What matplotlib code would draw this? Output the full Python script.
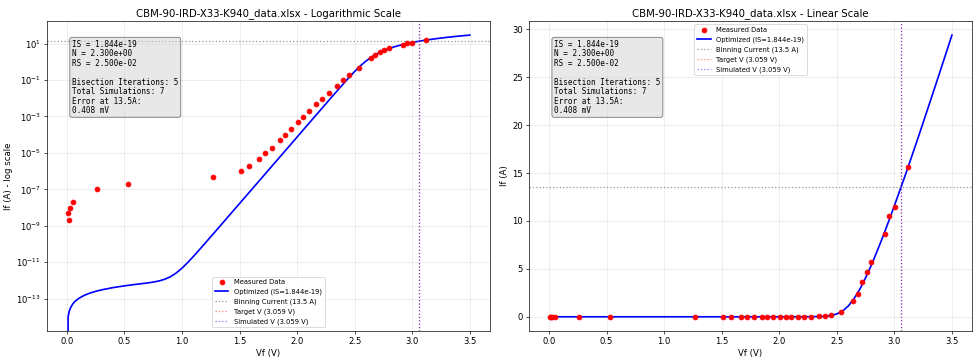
import numpy as np
import matplotlib.pyplot as plt

fname = "CBM-90-IRD-X33-K940_data.xlsx"

# measured points (Vf, If)
vf_meas = [0.011, 0.020, 0.023, 0.052, 0.263, 0.532, 1.268, 1.515, 1.579, 1.666,
           1.718, 1.779, 1.849, 1.895, 1.945, 2.009, 2.055, 2.102, 2.163, 2.215,
           2.273, 2.343, 2.395, 2.453, 2.534, 2.642, 2.680, 2.718, 2.758, 2.797,
           2.918, 2.956, 3.002, 3.118]
if_meas = [4.9e-9, 1.95e-9, 1.0e-8, 2.0e-8, 1.0e-7, 2.0e-7, 4.7e-7, 9.6e-7, 1.95e-6, 4.9e-6,
           9.6e-6, 1.95e-5, 4.9e-5, 1.0e-4, 2.0e-4, 4.7e-4, 9.2e-4, 1.9e-3, 4.7e-3, 9.2e-3,
           1.9e-2, 4.7e-2, 9.6e-2, 0.195, 0.48, 1.6, 2.42, 3.63, 4.67, 5.71,
           8.68, 10.55, 11.49, 15.57]

# optimized model curve
vf_sim = [0.0, 0.01, 0.02, 0.03, 0.05, 0.07, 0.1, 0.15, 0.2, 0.25, 0.3, 0.4, 0.5, 0.6,
          0.65, 0.7, 0.75, 0.8, 0.85, 0.9, 0.95, 1.0, 1.05, 1.1, 1.15, 1.2, 1.3, 1.5,
          1.8, 2.0, 2.1, 2.2, 2.3, 2.4, 2.45, 2.5, 2.55, 2.6, 2.65, 2.7, 2.75, 2.8,
          2.85, 2.9, 2.95, 3.0, 3.05, 3.1, 3.2, 3.3, 3.4, 3.5]
if_sim = [0.0, 1.0e-14, 2.0e-14, 3.0e-14, 5.0e-14, 7.0e-14, 1.0e-13, 1.5e-13, 2.0e-13,
          2.5e-13, 3.0e-13, 4.0e-13, 5.0e-13, 6.05e-13, 6.6e-13, 7.2e-13, 8.05e-13,
          9.3e-13, 1.15e-12, 1.59e-12, 2.55e-12, 4.7e-12, 9.65e-12, 2.1e-11, 4.75e-11,
          1.09e-10, 5.79e-10, 1.67e-8, 2.58e-6, 7.47e-5, 4.02e-4, 2.16e-3, 1.16e-2,
          0.0607, 0.1365, 0.297, 0.606, 1.127, 1.895, 2.88, 4.07, 5.39, 6.84, 8.35,
          9.945, 11.58, 13.26, 14.95, 18.45, 22.05, 25.69, 29.37]

IS = 1.844e-19
N = 2.3
RS = 0.025
i_bin = 13.5
v_target = 3.059
v_sim = 3.059

info = ("IS = {:.3e}\nN = {:.3e}\nRS = {:.3e}\n\nBisection Iterations: 5\n"
        "Total Simulations: 7\nError at 13.5A:\n0.408 mV").format(IS, N, RS)

fig, (ax1, ax2) = plt.subplots(1, 2, figsize=(16, 5.975), dpi=60.9375)

for ax, logy in [(ax1, True), (ax2, False)]:
    ax.scatter(vf_meas, if_meas, color='red', s=32, label='Measured Data', zorder=5)
    ax.plot(vf_sim, if_sim, 'b-', linewidth=2, label='Optimized (IS={:.3e})'.format(IS))
    ax.axhline(i_bin, color='gray', linestyle=':', alpha=0.8,
               label='Binning Current ({} A)'.format(i_bin))
    ax.axvline(v_target, color='red', linestyle=':', alpha=0.5,
               label='Target V ({:.3f} V)'.format(v_target))
    ax.axvline(v_sim, color='blue', linestyle=':', alpha=0.5,
               label='Simulated V ({:.3f} V)'.format(v_sim))
    ax.set_xlabel('Vf (V)')
    ax.grid(True, alpha=0.3)
    ax.text(0.057, 0.94, info, transform=ax.transAxes, fontsize=9, family='monospace',
            va='top', linespacing=1.07,
            bbox=dict(boxstyle='round', facecolor='lightgray', alpha=0.5))
    if logy:
        ax.set_yscale('log')
        ax.set_ylabel('If (A) - log scale')
        ax.set_title(fname + ' - Logarithmic Scale')
        ax.legend(loc='lower center', fontsize=8)
    else:
        ax.set_ylabel('If (A)')
        ax.set_title(fname + ' - Linear Scale')
        ax.legend(loc='upper center', fontsize=8)

plt.subplots_adjust(left=0.048, right=0.997, bottom=0.091, top=0.942, wspace=0.088)
fig.savefig('out.png')
